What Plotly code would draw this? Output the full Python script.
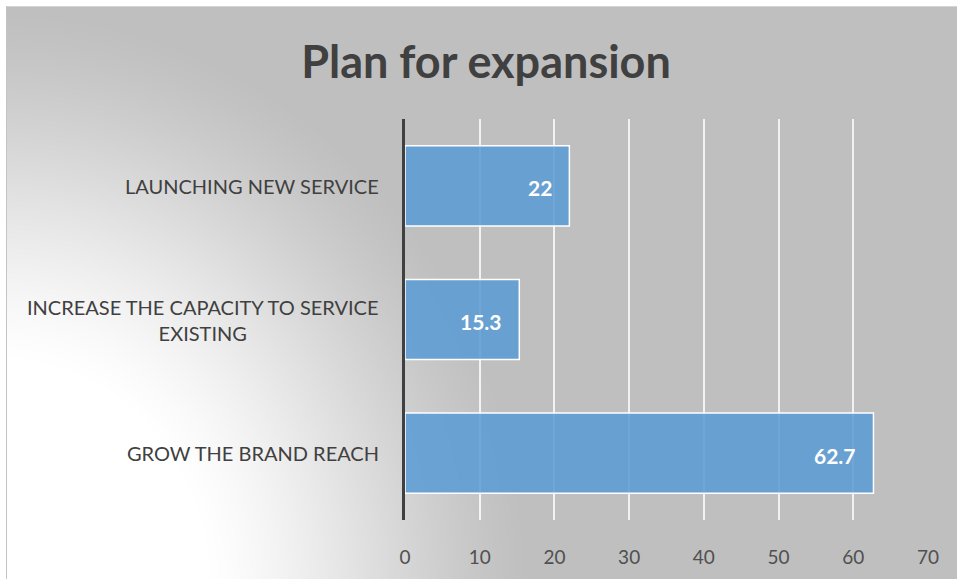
import base64
import struct
import zlib

import numpy as np
import plotly.graph_objects as go

# ---- data ----
categories = ["GROW THE BRAND REACH",
              "INCREASE THE CAPACITY TO SERVICE<br>EXISTING",
              "LAUNCHING NEW SERVICE"]
values = [62.7, 15.3, 22]
x_ticks = [0, 10, 20, 30, 40, 50, 60, 70]
title_text = "Plan for expansion"

# ---- page geometry ----
W, H = 957, 579
M_L, M_R, M_T, M_B = 405, 29, 119, 59
PW, PH = W - M_L - M_R, H - M_T - M_B

TEXT = "#404040"
TICK_TEXT = "#505050"
FONT = "Lato"


def gray_png(arr):
    """Encode a 2-D uint8 array as a grayscale PNG data URI."""
    h, w = arr.shape
    raw = b"".join(b"\x00" + arr[i].tobytes() for i in range(h))

    def chunk(tag, data):
        c = struct.pack(">I", len(data)) + tag + data
        return c + struct.pack(">I", zlib.crc32(tag + data) & 0xFFFFFFFF)

    png = b"\x89PNG\r\n\x1a\n"
    png += chunk(b"IHDR", struct.pack(">IIBBBBB", w, h, 8, 0, 0, 0, 0))
    png += chunk(b"IDAT", zlib.compress(raw, 9))
    png += chunk(b"IEND", b"")
    return "data:image/png;base64," + base64.b64encode(png).decode()


# radial fill: white from the lower-left corner fading to mid gray
yy, xx = np.mgrid[0:H, 0:W].astype(float)
dist = np.hypot(xx - 0, (yy - 585) * 0.92)
t = np.clip((dist - 210) / 320, 0, 1)
t = t * t * (3 - 2 * t) * 0.4 + t * 0.6
bg = 255 - t * (255 - 191)
bg = bg.astype(np.uint8)
bg[:6, :] = 255
bg[:, :6] = 255
bg[6, 6:] = 212
bg[6:, 6] = 196
bg_uri = gray_png(bg)

fig = go.Figure()
fig.add_trace(go.Bar(
    y=categories,
    x=values,
    orientation="h",
    width=0.6,
    marker=dict(color="rgba(91,155,213,0.86)",
                line=dict(color="white", width=1.5)),
    hoverinfo="skip",
))

annotations = []
# value labels at the inner end of each bar
for cat, v in zip(categories, values):
    annotations.append(dict(
        x=v, y=cat, xref="x", yref="y", text=f"<b>{v:g}</b>",
        showarrow=False, xanchor="right", xshift=-15, yshift=-2,
        font=dict(family=FONT, size=21, color="white"),
    ))
# category labels, centred line by line
for cat in categories:
    annotations.append(dict(
        x=-24 / PW, y=cat, xref="paper", yref="y", text=cat,
        showarrow=False, xanchor="right", align="center",
        font=dict(family=FONT, size=20, color=TEXT),
    ))

fig.update_layout(
    width=W, height=H,
    margin=dict(l=M_L, r=M_R, t=M_T, b=M_B),
    paper_bgcolor="white",
    plot_bgcolor="rgba(0,0,0,0)",
    showlegend=False,
    title=dict(text=f"<b>{title_text}</b>", x=486 / W, xanchor="center",
               y=1 - 62 / H, yanchor="middle", xref="container",
               yref="container",
               font=dict(family=FONT, size=45, color=TEXT)),
    xaxis=dict(range=[0, 70], tickvals=x_ticks, showgrid=True,
               gridcolor="rgba(255,255,255,0.8)", gridwidth=2,
               zeroline=False, ticks="outside", ticklen=20,
               tickcolor="rgba(0,0,0,0)",
               tickfont=dict(family=FONT, size=19, color=TICK_TEXT),
               fixedrange=True),
    yaxis=dict(categoryorder="array", categoryarray=categories,
               range=[-0.5, 2.5], showticklabels=False, showgrid=False,
               zeroline=False, showline=True, linecolor=TEXT, linewidth=3,
               fixedrange=True),
    annotations=annotations,
    images=[dict(source=bg_uri, xref="paper", yref="paper",
                 x=-M_L / PW, y=1 + M_T / PH, sizex=W / PW, sizey=H / PH,
                 xanchor="left", yanchor="top", sizing="stretch",
                 layer="below")],
)

fig.write_html("out.html", config={"displayModeBar": False})
